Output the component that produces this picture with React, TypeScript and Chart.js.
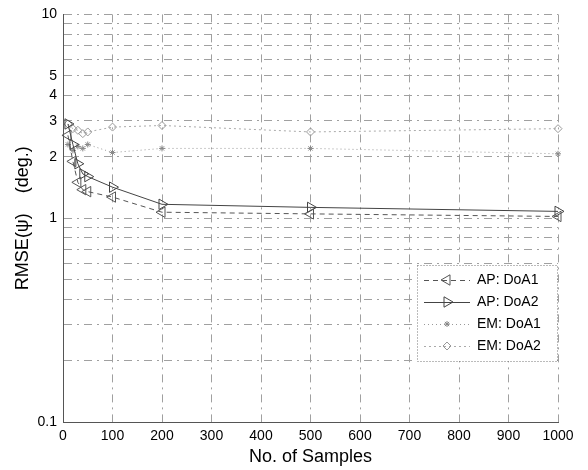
import React, { useEffect, useRef } from 'react';
import { Chart, registerables } from 'chart.js';
import { drawPoint } from 'chart.js/helpers';

Chart.register(...registerables);

const samples = [10, 20, 30, 40, 50, 100, 200, 500, 1000];
const apDoA1 = [2.55, 1.9, 1.5, 1.38, 1.35, 1.27, 1.07, 1.05, 1.02];
const apDoA2 = [2.9, 2.3, 1.85, 1.65, 1.6, 1.42, 1.17, 1.13, 1.08];
const emDoA1 = [2.3, 2.15, 2.25, 2.2, 2.3, 2.1, 2.2, 2.2, 2.07];
const emDoA2 = [2.9, 2.75, 2.7, 2.6, 2.65, 2.8, 2.85, 2.65, 2.75];

const seriesLabels = ['AP: DoA1', 'AP: DoA2', 'EM: DoA1', 'EM: DoA2'];
const yTickValues = [0.1, 0.2, 0.3, 0.4, 0.5, 0.6, 0.7, 0.8, 0.9, 1, 2, 3, 4, 5, 6, 7, 8, 9, 10];
const yTickLabels = [0.1, 1, 2, 3, 4, 5, 10];
const xTitle = 'No. of Samples';
const yTitle = 'RMSE(\u03c8)    (deg.)';

const FONT = "'Liberation Sans', Arial, Helvetica, sans-serif";
const GRID_DASH = [8, 5, 2, 5];

const toPoints = (ys: number[]) => samples.map((x, i) => ({ x, y: ys[i] }));

const legendPlugin = {
  id: 'insideLegend',
  afterDraw(chart: any) {
    const ctx = chart.ctx;
    const left = 417, top = 265, right = 557, bottom = 361;
    ctx.save();
    ctx.fillStyle = '#fff';
    ctx.fillRect(left, top, right - left, bottom - top);
    ctx.setLineDash([1, 2]);
    ctx.strokeStyle = '#777';
    ctx.lineWidth = 1;
    ctx.strokeRect(left + 0.5, top + 0.5, right - left, bottom - top);
    const rows = [280, 302, 324, 346];
    chart.data.datasets.forEach((ds: any, i: number) => {
      const y = rows[i];
      ctx.save();
      ctx.setLineDash(ds.borderDash || []);
      ctx.strokeStyle = ds.borderColor;
      ctx.lineWidth = ds.borderWidth || 1;
      ctx.beginPath();
      ctx.moveTo(424, y + 0.5);
      ctx.lineTo(470, y + 0.5);
      ctx.stroke();
      ctx.setLineDash([]);
      ctx.strokeStyle = ds.pointBorderColor;
      ctx.fillStyle = 'rgba(0,0,0,0)';
      drawPoint(ctx, {
        pointStyle: ds.pointStyle,
        rotation: ds.pointRotation || 0,
        radius: ds.pointRadius,
        borderWidth: 1,
      } as any, 447, y);
      ctx.restore();
      ctx.fillStyle = '#000';
      ctx.font = `14px ${FONT}`;
      ctx.textBaseline = 'middle';
      ctx.textAlign = 'left';
      ctx.fillText(ds.label, 477, y);
    });
    ctx.restore();
  },
};

export default function App() {
  const ref = useRef<HTMLCanvasElement>(null);
  useEffect(() => {
    if (!ref.current) return;
    const common = {
      borderWidth: 1,
      backgroundColor: 'rgba(0,0,0,0)',
      pointBackgroundColor: 'rgba(0,0,0,0)',
      pointBorderWidth: 1,
      clip: false as any,
      tension: 0,
    };
    const chart = new Chart(ref.current, {
      type: 'line',
      data: {
        datasets: [
          {
            ...common,
            label: seriesLabels[0],
            data: toPoints(apDoA1),
            borderColor: '#555',
            pointBorderColor: '#555',
            borderDash: [5, 4],
            pointStyle: 'triangle',
            pointRotation: -90,
            pointRadius: 6,
          },
          {
            ...common,
            label: seriesLabels[1],
            data: toPoints(apDoA2),
            borderColor: '#444',
            pointBorderColor: '#444',
            borderDash: [],
            pointStyle: 'triangle',
            pointRotation: 90,
            pointRadius: 6,
          },
          {
            ...common,
            label: seriesLabels[2],
            data: toPoints(emDoA1),
            borderColor: '#999',
            pointBorderColor: '#888',
            borderDash: [1, 3],
            pointStyle: 'star',
            pointRadius: 3,
          },
          {
            ...common,
            label: seriesLabels[3],
            data: toPoints(emDoA2),
            borderColor: '#aaa',
            pointBorderColor: '#999',
            borderDash: [2, 3],
            pointStyle: 'rectRot',
            pointRadius: 4,
          },
        ] as any,
      },
      options: {
        animation: false,
        responsive: false,
        devicePixelRatio: 1,
        layout: { padding: { top: 12, right: 30, left: 0, bottom: 0 } },
        plugins: { legend: { display: false }, tooltip: { enabled: false } },
        scales: {
          x: {
            type: 'linear',
            min: 0,
            max: 1000,
            afterFit: (s: any) => { s.height = 48; },
            ticks: {
              stepSize: 100,
              color: '#000',
              padding: 6,
              font: { family: FONT, size: 14 },
              maxRotation: 0,
              callback: (v: any) => String(v),
            },
            grid: { color: '#a0a0a0', drawTicks: false, lineWidth: 1 },
            border: { display: true, color: '#555', dash: GRID_DASH },
            title: { display: true, text: xTitle, color: '#000', font: { family: FONT, size: 18 }, padding: { top: 0, bottom: 2 } },
          },
          y: {
            type: 'logarithmic',
            min: 0.1,
            max: 10,
            afterFit: (s: any) => { s.width = 63; },
            afterBuildTicks: (s: any) => { s.ticks = yTickValues.map((v) => ({ value: v })); },
            ticks: {
              autoSkip: false,
              color: '#000',
              padding: 6,
              font: { family: FONT, size: 14 },
              callback: (v: any) => (yTickLabels.includes(Number(v)) ? String(v) : ''),
            },
            grid: { color: '#a0a0a0', drawTicks: false, lineWidth: 1 },
            border: { display: true, color: '#555', dash: GRID_DASH },
            title: { display: true, text: yTitle, color: '#000', font: { family: FONT, size: 18 }, padding: { top: 12, bottom: 0 } },
          },
        },
      } as any,
      plugins: [legendPlugin],
    });
    return () => chart.destroy();
  }, []);
  return (
    <div style={{ position: 'fixed', left: 0, top: 0, width: 588, height: 470, background: '#fff' }}>
      <canvas ref={ref} width={588} height={470} />
    </div>
  );
}
